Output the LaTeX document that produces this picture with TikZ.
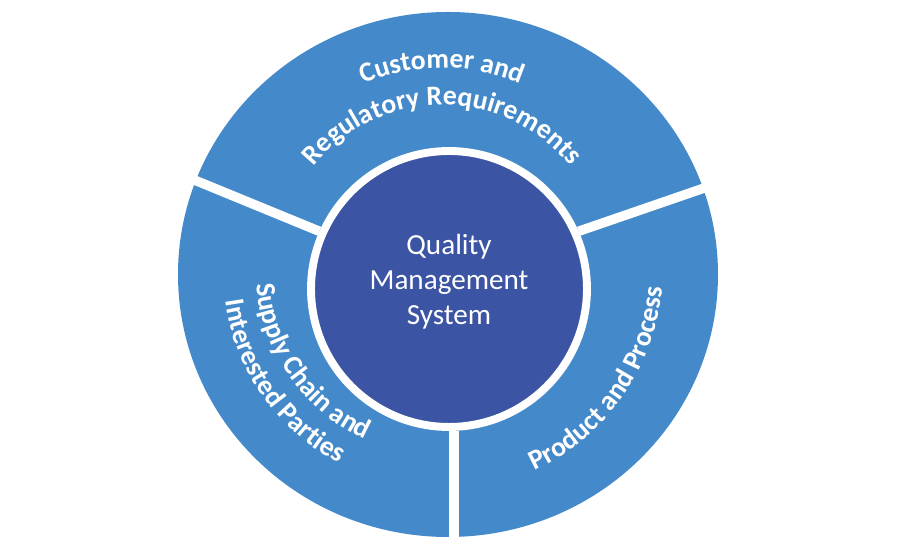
\documentclass[tikz,border=0pt]{standalone}
\usepackage{fontspec}
\setmainfont{Carlito}
\usetikzlibrary{decorations.text}
\definecolor{ringblue}{RGB}{68,138,202}
\definecolor{coreblue}{RGB}{60,84,164}

\begin{document}
\begin{tikzpicture}[x=0.02cm,y=0.02cm,
  gap/.style={white,line width=5.4pt},
  curved/.style={decorate,decoration={text along path,text align=center,
    text={|\bfseries\fontsize{15.8}{18}\selectfont\color{white}|#1}}}]
  \useasboundingbox (0,0) rectangle (900,550);
  \fill[ringblue] (448,275.5) ellipse [x radius=270,y radius=262.5];
  \node[circle,fill=coreblue,draw=white,line width=4.5pt,minimum size=5.52cm,
    text=white,align=center,text depth=11pt,font=\fontsize{16.6}{20.1}\selectfont] (qms) at (449,261)
    {Quality\\Management\\System};
  \draw[gap] (qms.156) -- ++(157.7:160);
  \draw[gap] (qms.24) -- ++(19:160);
  \draw[gap] (qms.-88) -- ++(-90:125);
  \coordinate (tc) at (442,280);
  \path[curved={Customer and}] ([shift={(160:202)}]tc) arc[start angle=160,end angle=20,radius=202];
  \path[curved={Regulatory Requirements}] ([shift={(160:165)}]tc) arc[start angle=160,end angle=20,radius=165];
  \path[curved={Supply Chain and}] ([shift={(160:186)}]tc) arc[start angle=160,end angle=270,radius=186];
  \path[curved={Interested Parties}] ([shift={(160:219)}]tc) arc[start angle=160,end angle=270,radius=219];
  \path[curved={Product and Process}] ([shift={(-90:221)}]tc) arc[start angle=-90,end angle=20,radius=221];
\end{tikzpicture}
\end{document}
